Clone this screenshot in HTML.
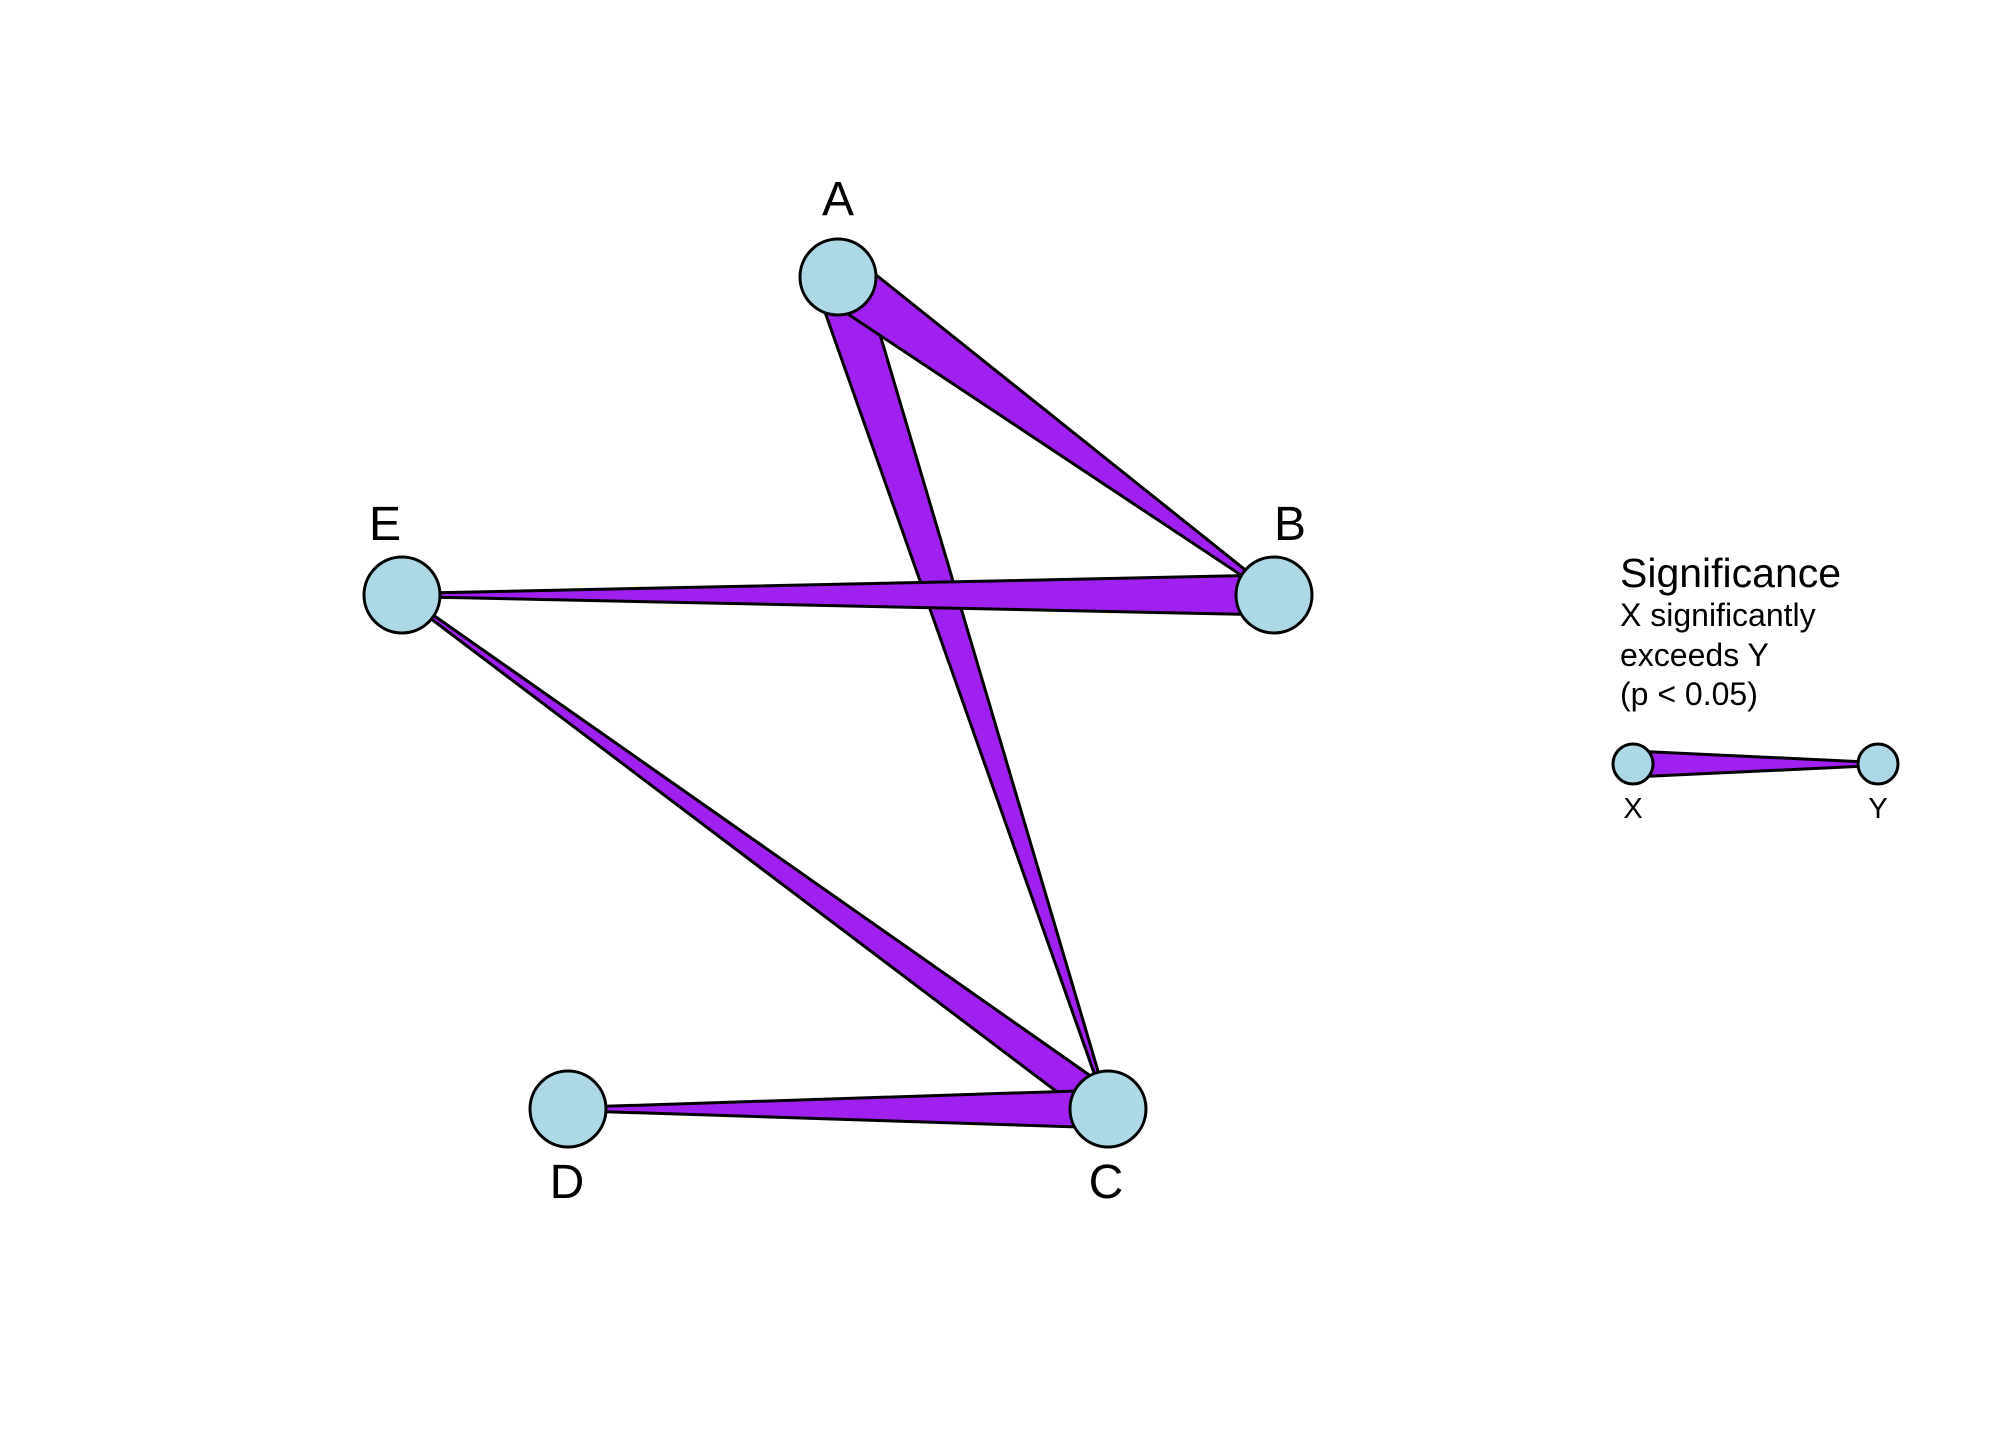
<!DOCTYPE html>
<html><head><meta charset="utf-8"><style>
html,body{margin:0;padding:0;background:#fff;}
svg{display:block;}
text{font-family:"Liberation Sans",Arial,sans-serif;fill:#000;}
</style></head><body>
<svg width="2016" height="1440" viewBox="0 0 2016 1440" xmlns="http://www.w3.org/2000/svg">
<rect width="2016" height="1440" fill="#fff"/>
<g fill="#A020F0" stroke="#000" stroke-width="3" stroke-linejoin="miter">
<polygon points="815.2,284.4 860.8,269.6 1109.4,1109.5 1106.6,1108.5"/>
<polygon points="823.0,297.5 853.0,256.5 1275.2,593.8 1272.8,596.2"/>
<polygon points="1274.7,615.0 1273.3,575.0 402.1,593.5 401.9,596.5"/>
<polygon points="1117.8,1095.0 1098.2,1123.0 401.1,596.2 402.9,593.8"/>
<polygon points="1108.8,1128.0 1107.2,1090.0 568.0,1107.5 568.0,1110.5"/>
<polygon points="1633,751 1633,777 1878,765.5 1878,762.5"/>
</g>
<g fill="#ADD8E6" stroke="#000" stroke-width="3">
<circle cx="838" cy="277" r="38"/>
<circle cx="1274" cy="595" r="38"/>
<circle cx="402" cy="595" r="38"/>
<circle cx="1108" cy="1109" r="38"/>
<circle cx="568" cy="1109" r="38"/>
<circle cx="1633" cy="764" r="20"/>
<circle cx="1878" cy="764" r="20"/>
</g>
<g font-size="48" text-anchor="middle">
<text x="838" y="215">A</text>
<text x="1290" y="540">B</text>
<text x="385" y="540">E</text>
<text x="567" y="1198">D</text>
<text x="1106" y="1198">C</text>
</g>
<text x="1620" y="587" font-size="41">Significance</text>
<g font-size="32">
<text x="1620" y="626">X significantly</text>
<text x="1620" y="666">exceeds Y</text>
<text x="1620" y="705">(p &lt; 0.05)</text>
</g>
<g font-size="29" text-anchor="middle">
<text x="1633" y="818">X</text>
<text x="1878" y="818">Y</text>
</g>
</svg>
</body></html>
